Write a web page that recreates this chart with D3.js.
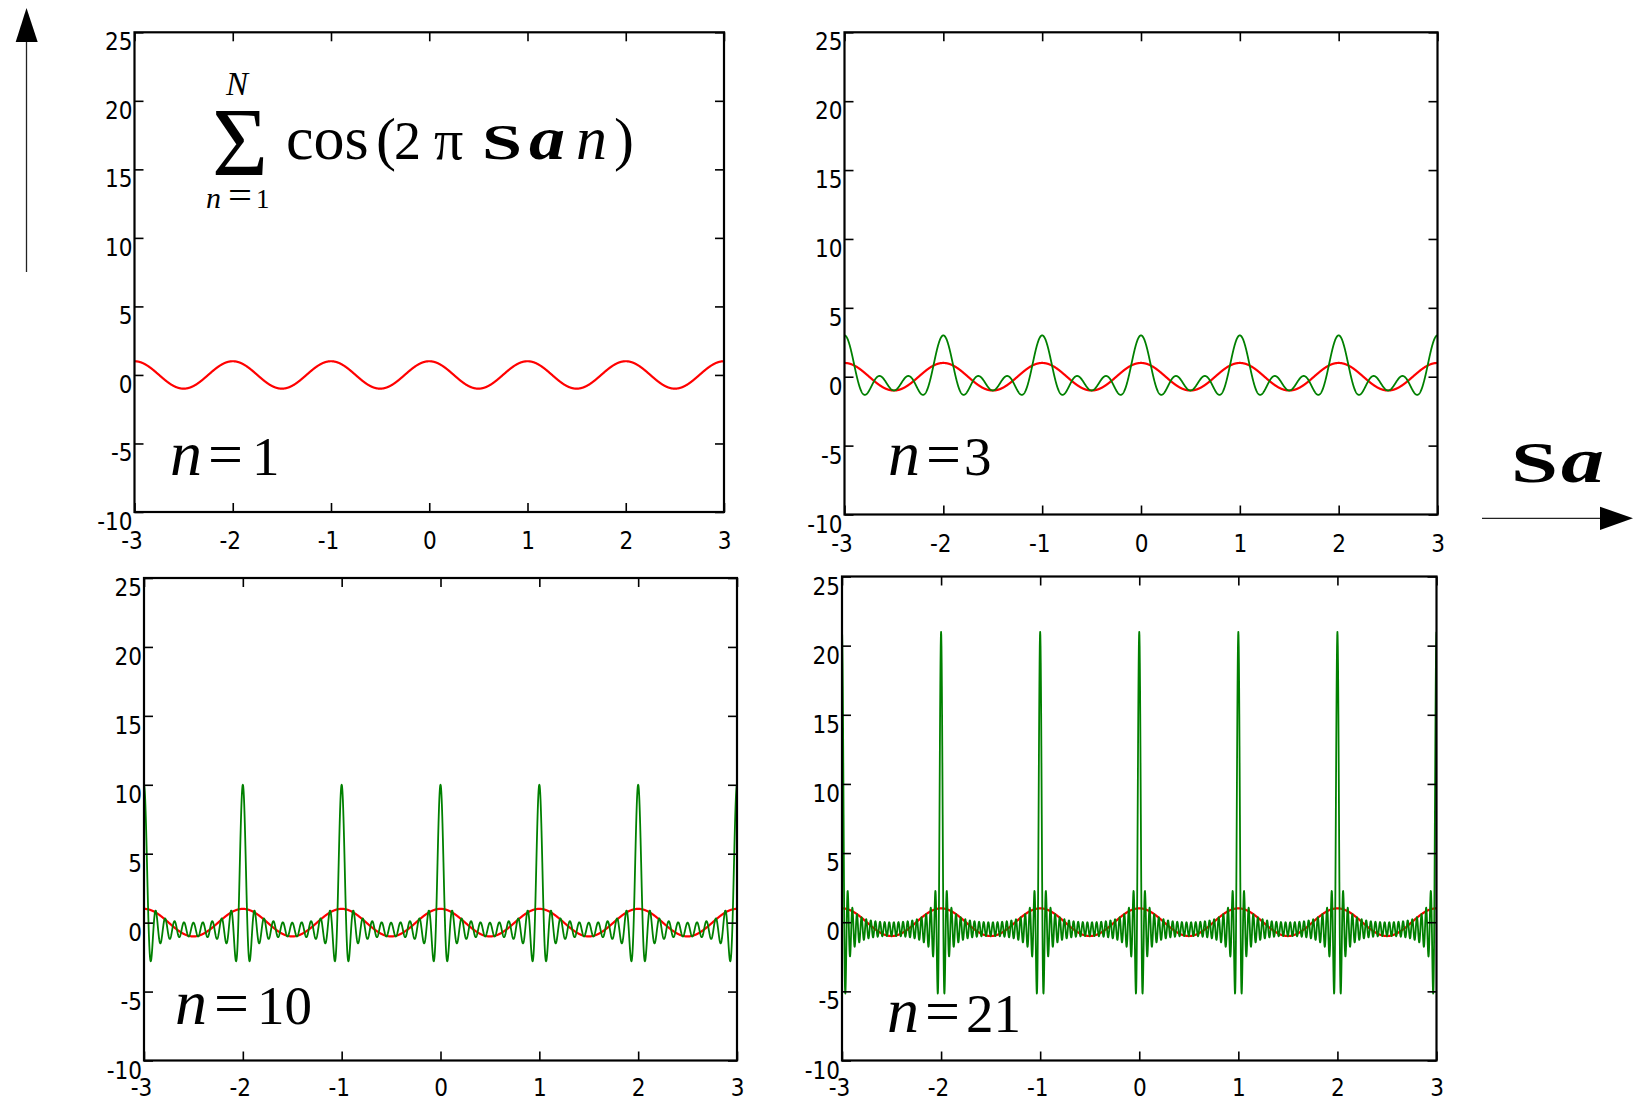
<!DOCTYPE html>
<html>
<head>
<meta charset="utf-8">
<script src="https://cdn.jsdelivr.net/npm/d3@7"></script>
<style>
  html, body { margin: 0; padding: 0; background: #ffffff; }
  svg { display: block; }
  .tick text { font-family: "DejaVu Sans Condensed", "DejaVu Sans", sans-serif; font-stretch: condensed; font-size: 24px; fill: #000; }
</style>
</head>
<body>
<script>
// ---------------- data ----------------
// number of cosine terms N summed in each panel (green curve); red curve is the N = 1 term
const panelHarmonics = [1, 3, 10, 21];
const referenceHarmonics = 1;
const panelLabelValues = ["1", "3", "10", "21"];
const xDomain = [-3, 3];
const yDomain = [-10, 25];
const xTickValues = [-3, -2, -1, 0, 1, 2, 3];
const yTickValues = [-10, -5, 0, 5, 10, 15, 20, 25];
const axisLabel = ["S", "a"];

// ---------------- layout ----------------
const W = 1635, H = 1102;
const layout = [
  { l: 134.5, r: 724,    t: 32.3,  b: 512,    lab: [170, 208, 252], base: 475,    xl: 37 },
  { l: 844.5, r: 1437.5, t: 32.3,  b: 514.5,  lab: [888, 926, 964], base: 475,    xl: 37 },
  { l: 144,   r: 737,    t: 578,   b: 1060.5, lab: [175, 214, 257], base: 1023.5, xl: 35.5 },
  { l: 842,   r: 1436.5, t: 576.5, b: 1060.5, lab: [887, 925, 966], base: 1032,   xl: 35.5 }
];
const SERIF = "'Liberation Serif', 'Times New Roman', serif";

const svg = d3.select("body").append("svg")
  .attr("width", W).attr("height", H)
  .attr("viewBox", `0 0 ${W} ${H}`);
svg.append("rect").attr("width", W).attr("height", H).attr("fill", "#fff");
const defs = svg.append("defs");

// partial sum of cos(2π Sa n), n = 1..N  (the function that the chart plots)
function partialSum(N, sa) {
  let s = 0;
  for (let n = 1; n <= N; n++) s += Math.cos(2 * Math.PI * sa * n);
  return s;
}
const SAMPLES = 3000;
const saGrid = d3.range(SAMPLES + 1).map(i => xDomain[0] + (xDomain[1] - xDomain[0]) * i / SAMPLES);

function glyph(g, text, x, y, size, opts = {}) {
  const t = g.append("text")
    .attr("x", x).attr("y", y)
    .attr("font-family", opts.family || SERIF)
    .attr("font-size", size)
    .attr("font-weight", opts.weight || "normal")
    .attr("font-style", opts.style || "normal")
    .attr("fill", "#000")
    .text(text);
  if (opts.width) t.attr("textLength", opts.width).attr("lengthAdjust", "spacingAndGlyphs");
  return t;
}

panelHarmonics.forEach((N, i) => {
  const L = layout[i];
  const x = d3.scaleLinear().domain(xDomain).range([L.l, L.r]);
  const y = d3.scaleLinear().domain(yDomain).range([L.b, L.t]);
  const g = svg.append("g");

  const clipId = "clip" + i;
  defs.append("clipPath").attr("id", clipId)
    .append("rect").attr("x", L.l).attr("y", L.t).attr("width", L.r - L.l).attr("height", L.b - L.t);

  const line = d3.line().x(d => x(d[0])).y(d => y(d[1]));
  const curves = g.append("g").attr("clip-path", `url(#${clipId})`);

  const redData = saGrid.map(s => [s, partialSum(referenceHarmonics, s)]);
  curves.append("path").attr("d", line(redData))
    .attr("fill", "none").attr("stroke", "#ff0000").attr("stroke-width", 2.2)
    .attr("stroke-linejoin", "round");
  if (N !== referenceHarmonics) {
    const greenData = saGrid.map(s => [s, partialSum(N, s)]);
    curves.append("path").attr("d", line(greenData))
      .attr("fill", "none").attr("stroke", "#008000").attr("stroke-width", 1.8)
      .attr("stroke-linejoin", "round");
  }

  // axes (ticks inside on all sides)
  const fmt = d => String(d);
  const left = g.append("g").attr("transform", `translate(${L.l},0)`)
    .call(d3.axisLeft(y).tickValues(yTickValues).tickSize(-9).tickPadding(2).tickFormat(fmt));
  left.selectAll(".tick text").attr("dy", null).attr("y", 17.5);
  const bottom = g.append("g").attr("transform", `translate(0,${L.b})`)
    .call(d3.axisBottom(x).tickValues(xTickValues).tickSize(-9).tickFormat(fmt));
  bottom.selectAll(".tick text").attr("dy", null).attr("y", L.xl).attr("dx", d => d < 0 ? -3 : 0);
  g.append("g").attr("transform", `translate(${L.r},0)`)
    .call(d3.axisRight(y).tickValues(yTickValues).tickSize(-9).tickFormat(""));
  g.append("g").attr("transform", `translate(0,${L.t})`)
    .call(d3.axisTop(x).tickValues(xTickValues).tickSize(-9).tickFormat(""));
  g.selectAll(".domain").remove();
  g.selectAll(".tick line").attr("stroke", "#000").attr("stroke-width", 1.6);

  g.append("rect").attr("x", L.l).attr("y", L.t)
    .attr("width", L.r - L.l).attr("height", L.b - L.t)
    .attr("fill", "none").attr("stroke", "#000").attr("stroke-width", 2.2);

  // panel label  n = N
  glyph(g, "n", L.lab[0], L.base, 64, { style: "italic" });
  glyph(g, "=", L.lab[1], L.base, 62);
  glyph(g, panelLabelValues[i], L.lab[2], L.base, 55);
});

// formula in first panel
const f = svg.append("g");
glyph(f, "Σ", 212, 175, 98, { width: 56 });
glyph(f, "N", 226, 95, 33, { style: "italic" });
glyph(f, "n", 206, 208, 30, { style: "italic" });
glyph(f, "=", 228, 208, 38, { width: 24 });
glyph(f, "1", 256, 208, 27);
glyph(f, "cos", 286, 159, 62);
glyph(f, "(", 376, 159, 60);
glyph(f, "2", 394, 159, 54);
glyph(f, "π", 434, 159, 58);
glyph(f, "S", 482, 159, 50, { weight: "bold", width: 40 });
glyph(f, "a", 529, 159, 62, { weight: "bold", style: "italic", width: 36 });
glyph(f, "n", 576, 159, 62, { style: "italic" });
glyph(f, ")", 614, 159, 60);

// axis arrows
const arrows = svg.append("g");
arrows.append("line").attr("x1", 26.5).attr("x2", 26.5).attr("y1", 40).attr("y2", 272)
  .attr("stroke", "#222").attr("stroke-width", 1.3);
arrows.append("path").attr("d", "M26.5,8 L15.7,42 L37.7,42 Z").attr("fill", "#000");
arrows.append("line").attr("x1", 1482).attr("x2", 1601).attr("y1", 518.3).attr("y2", 518.3)
  .attr("stroke", "#222").attr("stroke-width", 1.3);
arrows.append("path").attr("d", "M1633,518.3 L1600,506.7 L1600,529.9 Z").attr("fill", "#000");

// axis variable label  S a
glyph(arrows, axisLabel[0], 1511, 482, 56, { weight: "bold", width: 47 });
glyph(arrows, axisLabel[1], 1561, 482, 64, { weight: "bold", style: "italic", width: 43 });
</script>
</body>
</html>
